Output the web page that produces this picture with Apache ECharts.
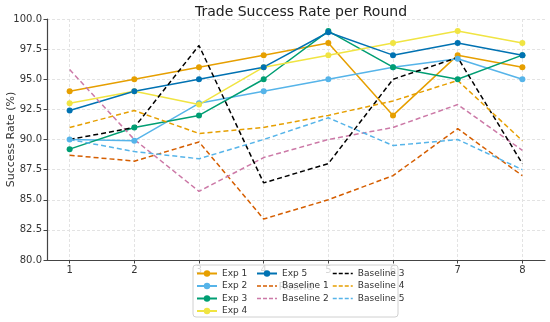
<!DOCTYPE html>
<html><head><meta charset="utf-8">
<script src="https://cdn.jsdelivr.net/npm/echarts@6/dist/echarts.min.js"></script>
<style>html,body{margin:0;padding:0;background:#fff}#c{width:550px;height:322px}</style>
</head><body><div id="c"></div>
<script>
const rounds = [1, 2, 3, 4, 5, 6, 7, 8];
const yTicks = [80, 82.5, 85, 87.5, 90, 92.5, 95, 97.5, 100];
const exp1 = [94, 95, 96, 97, 98, 92, 97, 96];
const exp2 = [90, 89.9, 93, 94, 95, 96, 96.7, 95];
const exp3 = [89.2, 91, 92, 95, 99, 96, 95, 97];
const exp4 = [93, 94, 92.9, 96, 97, 98, 99, 98];
const exp5 = [92.4, 94, 95, 96, 98.9, 97, 98, 97];
const base1 = [88.7, 88.2, 89.8, 83.4, 85, 87, 90.9, 87];
const base2 = [95.8, 90, 85.7, 88.5, 90, 91, 92.9, 89.1];
const base3 = [90, 91, 97.8, 86.4, 88, 95, 96.8, 88];
const base4 = [91, 92.4, 90.5, 91, 92, 93.2, 94.9, 89.9];
const base5 = [90, 89, 88.4, 90, 91.8, 89.5, 90, 87.5];

const FONT = 'DejaVu Sans';
const defs = [
  ['Exp 1', exp1, '#E69F00', 'solid'],
  ['Exp 2', exp2, '#56B4E9', 'solid'],
  ['Exp 3', exp3, '#009E73', 'solid'],
  ['Exp 4', exp4, '#F0E442', 'solid'],
  ['Exp 5', exp5, '#0072B2', 'solid'],
  ['Baseline 1', base1, '#D55E00', 'dashed'],
  ['Baseline 2', base2, '#CC79A7', 'dashed'],
  ['Baseline 3', base3, '#000000', 'dashed'],
  ['Baseline 4', base4, '#E69F00', 'dashed'],
  ['Baseline 5', base5, '#56B4E9', 'dashed']
];
const series = defs.map(([name, vals, color, type]) => ({
  name, type: 'line',
  data: rounds.map((r, i) => [r, vals[i]]),
  color,
  symbol: type === 'solid' ? 'circle' : 'none',
  symbolSize: 6,
  showSymbol: type === 'solid',
  lineStyle: { width: 1.5, type: type === 'solid' ? 'solid' : [5, 3], color },
  itemStyle: { color },
  animation: false,
  emphasis: { disabled: true }
}));

function legend(names, left) {
  return {
    data: names.map(n => n.startsWith('Baseline')
      ? { name: n, itemStyle: { opacity: 0 }, lineStyle: { type: [4, 2], width: 1.5 } }
      : { name: n }),
    orient: 'vertical', left, top: 269,
    itemWidth: 20, itemHeight: 8, itemGap: 3.5, padding: 0,
    textStyle: { fontFamily: FONT, fontSize: 9, color: '#333' },
    z: 10
  };
}

const chart = echarts.init(document.getElementById('c'));
chart.setOption({
  animation: false,
  backgroundColor: '#fff',
  title: {
    text: 'Trade Success Rate per Round', left: 296, top: 0, textAlign: 'center',
    textStyle: { fontFamily: FONT, fontSize: 14, fontWeight: 'normal', color: '#222' }
  },
  grid: { left: 47, right: 5, top: 19, bottom: 62, containLabel: false, outerBoundsMode: 'none' },
  xAxis: {
    type: 'value', min: 0.65, max: 8.35,
    name: 'Round', nameLocation: 'middle', nameGap: 22, nameMoveOverlap: false,
    nameTextStyle: { fontFamily: FONT, fontSize: 11, color: '#333' },
    axisLine: { lineStyle: { color: '#444', width: 1.2 } },
    axisTick: { show: true, customValues: rounds, length: 3.5, lineStyle: { color: '#444' } },
    axisLabel: { customValues: rounds, fontFamily: FONT, fontSize: 10, color: '#333', margin: 5 },
    splitLine: { show: true, lineStyle: { color: '#e3e3e3', type: [3, 2] } }
  },
  yAxis: {
    type: 'value', min: 80, max: 100, interval: 2.5,
    name: 'Success Rate (%)', nameLocation: 'middle', nameGap: 30, nameMoveOverlap: false,
    nameTextStyle: { fontFamily: FONT, fontSize: 11, color: '#333' },
    axisLine: { show: true, lineStyle: { color: '#444', width: 1.2 } },
    axisTick: { show: true, length: 3.5, lineStyle: { color: '#444' } },
    axisLabel: { fontFamily: FONT, fontSize: 10, color: '#333', margin: 5, formatter: v => v.toFixed(1) },
    splitLine: { show: true, lineStyle: { color: '#e3e3e3', type: [3, 2] } }
  },
  legend: [
    legend(['Exp 1', 'Exp 2', 'Exp 3', 'Exp 4'], 196),
    legend(['Exp 5', 'Baseline 1', 'Baseline 2'], 256),
    legend(['Baseline 3', 'Baseline 4', 'Baseline 5'], 332)
  ],
  graphic: [{
    type: 'rect', z: 5, silent: true,
    shape: { x: 193, y: 265, width: 205, height: 52, r: 3 },
    style: { fill: 'rgba(255,255,255,0.8)', stroke: '#d0d0d0', lineWidth: 1 }
  }],
  series
});
</script></body></html>
